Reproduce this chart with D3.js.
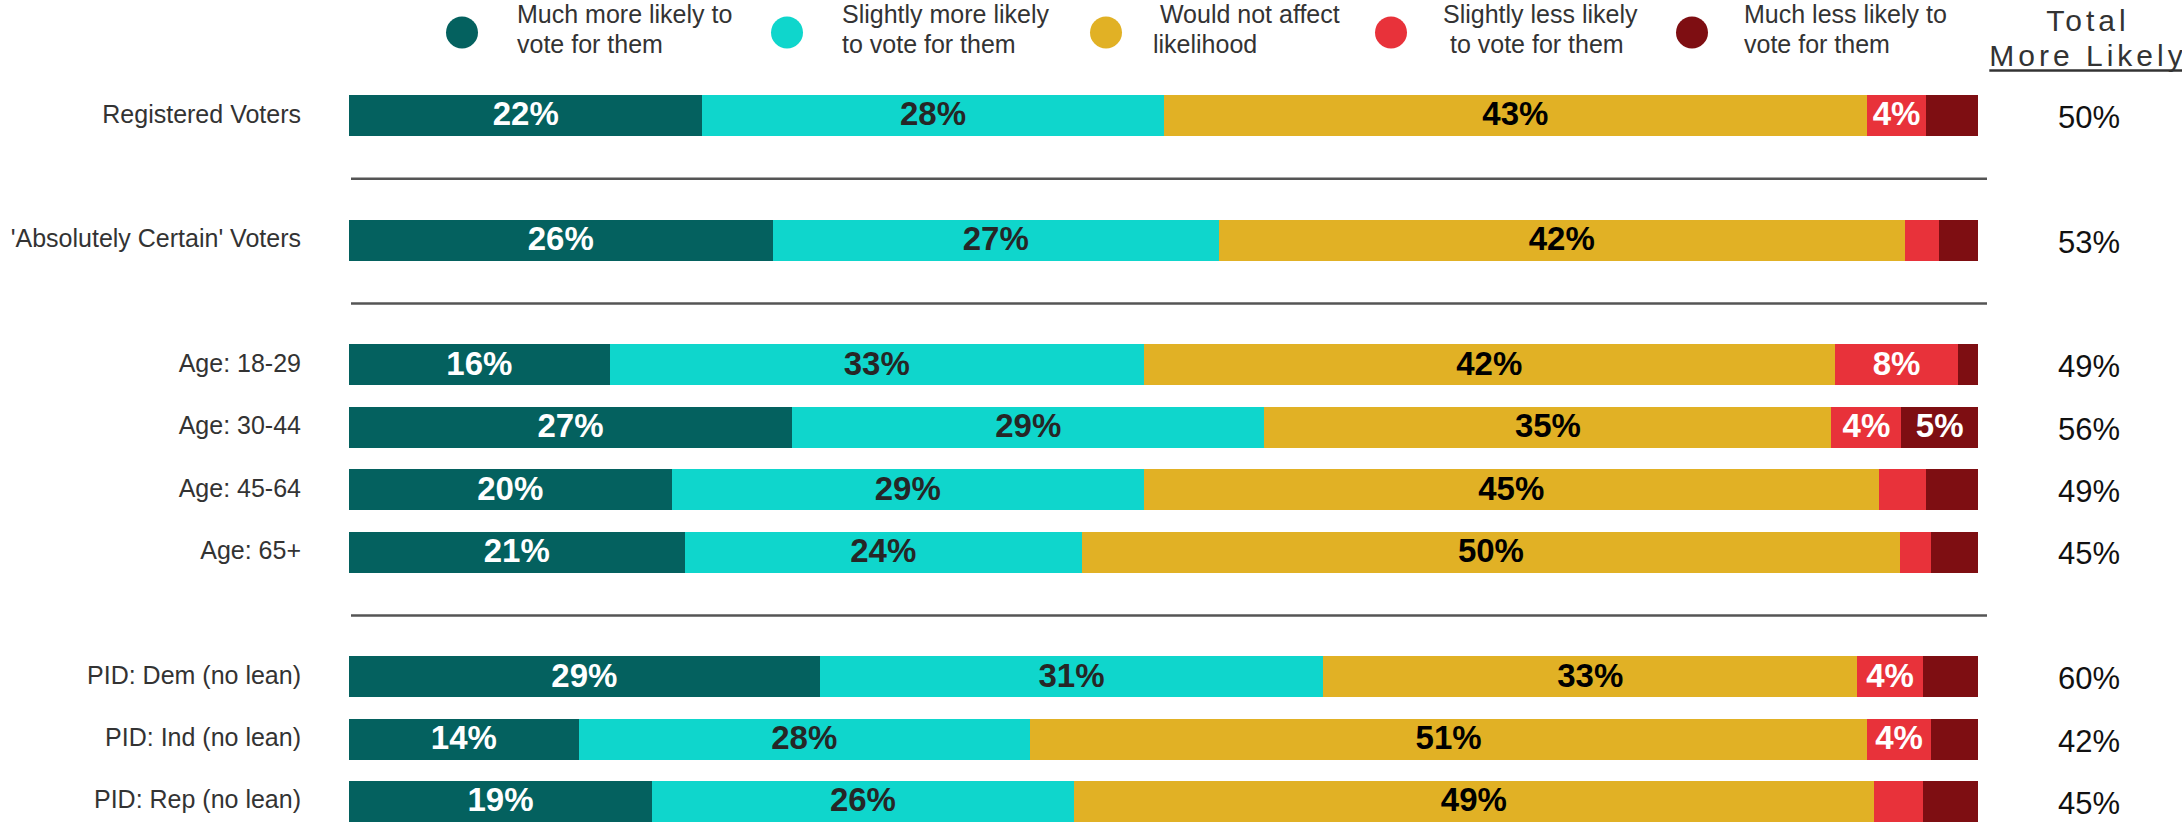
<!DOCTYPE html>
<html>
<head>
<meta charset="utf-8">
<script src="https://d3js.org/d3.v7.min.js"></script>
<style>
  body { margin: 0; background: #fff; }
  svg { display: block; font-family: "Liberation Sans", Arial, sans-serif; }
</style>
</head>
<body>
<svg id="chart"></svg>
<script>
// Filas del grafico
var categories = [
  "Registered Voters",
  "'Absolutely Certain' Voters",
  "Age: 18-29",
  "Age: 30-44",
  "Age: 45-64",
  "Age: 65+",
  "PID: Dem (no lean)",
  "PID: Ind (no lean)",
  "PID: Rep (no lean)"
];
// grupo de cada fila (hay una linea entre grupos)
var groupOf = [0, 1, 2, 2, 2, 2, 3, 3, 3];

var seriesLines = [
  ["Much more likely to", "vote for them"],
  ["Slightly more likely", "to vote for them"],
  [" Would not affect", "likelihood"],
  ["Slightly less likely", " to vote for them"],
  ["Much less likely to", "vote for them"]
];

// valores (sin redondear, las etiquetas redondean)
var muchMore     = [21.7, 26.0, 16.0, 27.2, 19.8, 20.6, 28.9, 14.1, 18.6];
var slightlyMore = [28.3, 27.4, 32.8, 29.0, 29.0, 24.4, 30.9, 27.7, 25.9];
var noEffect     = [43.2, 42.1, 42.4, 34.8, 45.1, 50.2, 32.8, 51.4, 49.1];
var slightlyLess = [3.6, 2.1, 7.6, 4.3, 2.9, 1.9, 4.0, 3.9, 3.0];
var muchLess     = [3.2, 2.4, 1.2, 4.7, 3.2, 2.9, 3.4, 2.9, 3.4];
var totalMore    = [50, 53, 49, 56, 49, 45, 60, 42, 45];
var totalHeader  = ["Total", "More Likely"];

var w = 2182, h = 822;
var keys = ["muchMore", "slightlyMore", "noEffect", "slightlyLess", "muchLess"];
var colors = ["#04615f", "#0fd6cc", "#e1b125", "#e8323a", "#7e0e12"];
var labelColors = ["#ffffff", "#262626", "#000000", "#ffffff", "#ffffff"];
var legendX = [462, 787, 1106, 1391, 1692];
var legendTextX = [517, 842, 1153, 1443, 1744];

var table = categories.map(function(c, i) {
  return {
    label: c,
    slot: i + groupOf[i],
    muchMore: muchMore[i],
    slightlyMore: slightlyMore[i],
    noEffect: noEffect[i],
    slightlyLess: slightlyLess[i],
    muchLess: muchLess[i],
    total: totalMore[i]
  };
});

var svg = d3.select("#chart").attr("width", w).attr("height", h);

var x = d3.scaleLinear().domain([0, 100]).range([349, 1978]);
var y = d3.scaleBand()
  .domain(d3.range(12))
  .range([95, 822])
  .paddingInner(0.3425);
var bh = y.bandwidth();

var stacked = d3.stack().keys(keys)(table);

// Barras
var layers = svg.append("g")
  .selectAll("g")
  .data(stacked)
  .join("g")
  .attr("fill", function(d, i) { return colors[i]; });

layers.selectAll("rect")
  .data(function(d) { return d; })
  .join("rect")
  .attr("shape-rendering", "crispEdges")
  .attr("x", function(d) { return x(d[0]); })
  .attr("y", function(d) { return y(d.data.slot); })
  .attr("width", function(d) { return x(d[1]) - x(d[0]); })
  .attr("height", bh);

// Etiquetas dentro de las barras (solo 4% o mas)
layers.each(function(layer, li) {
  d3.select(this).selectAll("text")
    .data(layer.filter(function(d) { return Math.round(d[1] - d[0]) >= 4; }))
    .join("text")
    .attr("x", function(d) { return (x(d[0]) + x(d[1])) / 2; })
    .attr("y", function(d) { return y(d.data.slot) + bh / 2; })
    .attr("dy", "0.3em")
    .attr("text-anchor", "middle")
    .attr("font-size", 33)
    .attr("font-weight", "bold")
    .attr("fill", labelColors[li])
    .text(function(d) { return Math.round(d[1] - d[0]) + "%"; });
});

// Lineas separadoras entre grupos
var sepSlots = table
  .filter(function(d, i) { return i > 0 && groupOf[i] !== groupOf[i - 1]; })
  .map(function(d) { return d.slot - 1; });

svg.append("g")
  .selectAll("line")
  .data(sepSlots)
  .join("line")
  .attr("x1", 351)
  .attr("x2", 1987)
  .attr("y1", function(s) { return y(s) + bh / 2 + 1; })
  .attr("y2", function(s) { return y(s) + bh / 2 + 1; })
  .attr("stroke", "#555")
  .attr("stroke-width", 2.5);

// Nombres de las filas
svg.append("g")
  .selectAll("text")
  .data(table)
  .join("text")
  .attr("x", 301)
  .attr("y", function(d) { return y(d.slot) + bh / 2; })
  .attr("dy", "0.28em")
  .attr("text-anchor", "end")
  .attr("font-size", 25)
  .attr("fill", "#333")
  .text(function(d) { return d.label; });

// Total mas probable
svg.append("g")
  .selectAll("text")
  .data(table)
  .join("text")
  .attr("x", 2089)
  .attr("y", function(d) { return y(d.slot) + bh / 2; })
  .attr("dy", "0.4em")
  .attr("text-anchor", "middle")
  .attr("font-size", 31)
  .attr("fill", "#111")
  .text(function(d) { return d.total + "%"; });

var head = svg.append("g")
  .attr("font-size", 30)
  .attr("fill", "#333")
  .attr("letter-spacing", "4px")
  .attr("text-anchor", "middle");
head.append("text").attr("x", 2088).attr("y", 31).text(totalHeader[0]);
var more = head.append("text").attr("x", 2088).attr("y", 66).text(totalHeader[1]);
var bb = more.node().getBBox();
head.append("line")
  .attr("x1", bb.x)
  .attr("x2", bb.x + bb.width)
  .attr("y1", 70.5)
  .attr("y2", 70.5)
  .attr("stroke", "#333")
  .attr("stroke-width", 2.5);

// Leyenda
var legend = svg.append("g")
  .selectAll("g")
  .data(seriesLines)
  .join("g");

legend.append("circle")
  .attr("cx", function(d, i) { return legendX[i]; })
  .attr("cy", 32.5)
  .attr("r", 16)
  .attr("fill", function(d, i) { return colors[i]; });

legend.append("text")
  .attr("font-size", 25)
  .attr("fill", "#333")
  .style("white-space", "pre")
  .selectAll("tspan")
  .data(function(d, i) { return d.map(function(t) { return { t: t, i: i }; }); })
  .join("tspan")
  .attr("x", function(d) { return legendTextX[d.i]; })
  .attr("y", function(d, j) { return 23 + j * 30; })
  .text(function(d) { return d.t; });
</script>
</body>
</html>
